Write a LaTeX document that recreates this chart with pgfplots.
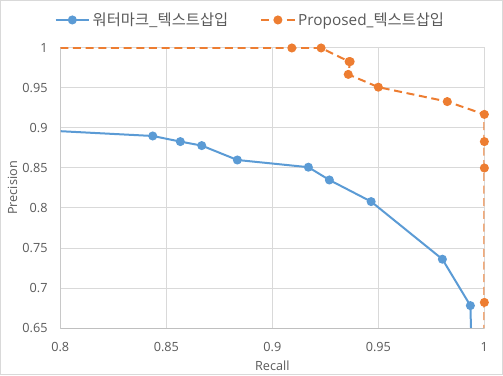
\documentclass[border=0pt]{standalone}
\usepackage{pgfplots}
\pgfplotsset{compat=1.18}
\usepackage{fontspec}
\setmainfont{Open Sans}
\newfontfamily\kr{Noto Sans CJK KR}
\definecolor{xlblue}{HTML}{5B9BD5}
\definecolor{xlorange}{HTML}{ED7D31}
\definecolor{xlgrid}{HTML}{D9D9D9}
\definecolor{xlaxis}{HTML}{BFBFBF}
\definecolor{xltext}{HTML}{595959}
\begin{document}
\begin{tikzpicture}
\begin{axis}[
  at={(0,0)}, anchor=south west,
  scale only axis,
  width=318pt, height=210pt,
  xmin=0.8, xmax=1, ymin=0.65, ymax=1,
  xtick={0.8,0.85,0.9,0.95,1},
  ytick={0.65,0.7,0.75,0.8,0.85,0.9,0.95,1},
  /pgf/number format/assume math mode=true,
  xticklabel style={font=\fontsize{9.5}{11}\selectfont, text=xltext, yshift=-7pt},
  yticklabel style={font=\fontsize{9.5}{11}\selectfont, text=xltext, xshift=-6pt},
  tick style={draw=none},
  grid=major,
  major grid style={draw=xlgrid, line width=0.75pt},
  axis line style={draw=xlgrid, line width=0.75pt},
  xlabel={Recall}, ylabel={Precision},
  label style={font=\fontsize{9.5}{11}\selectfont, text=xltext},
  xlabel style={yshift=0pt},
  ylabel style={yshift=-3pt},
  legend style={at={(0.449,1.10)}, anchor=center, draw=none, fill=none,
    legend columns=2, font=\fontsize{11.5}{14}\selectfont, text=xltext,
    /tikz/every even column/.append style={column sep=22pt}},
  legend cell align=left,
  legend image code/.code={
    \draw[mark repeat=2, mark phase=2, #1] plot coordinates {(0pt,0pt) (12.5pt,0pt) (25pt,0pt)};},
]
\addlegendimage{xlblue, line width=1.5pt, mark=*, mark size=2.6pt, mark options={solid, fill=xlblue, draw=xlblue}}
\addlegendentry{\kr 워터마크\_텍스트삽입}
\addlegendimage{xlorange, line width=1.5pt, dash pattern=on 6pt off 3.5pt, mark=*, mark size=2.6pt, mark options={solid, fill=xlorange, draw=xlorange}}
\addlegendentry{Proposed\_{\kr 텍스트삽입}}
\addplot[forget plot, xlblue, line width=1.5pt, mark=*, mark size=2.6pt, mark options={solid, fill=xlblue, draw=xlblue},
  mark indices={2,3,4,5,6,7,8,9,10}] coordinates {
  (0.8,0.896) (0.8436,0.890) (0.8566,0.883) (0.8667,0.878) (0.8835,0.860)
  (0.9170,0.851) (0.9269,0.835) (0.9466,0.808) (0.9802,0.736) (0.9934,0.678)
  (0.9937,0.65)};
\addplot[forget plot, xlorange, line width=1.5pt, dash pattern=on 6pt off 3.5pt, mark=*, mark size=2.6pt,
  mark options={solid, fill=xlorange, draw=xlorange},
  mark indices={2,3,4,5,6,7,8,9,10,11,12}] coordinates {
  (0.8,1) (0.9092,1) (0.923,1) (0.9362,0.983) (0.9367,0.983) (0.9358,0.967)
  (0.950,0.951) (0.9825,0.933) (1,0.917) (1,0.883) (1,0.850) (1,0.682) (1,0.65)};
\draw[xlaxis, line width=0.75pt] (rel axis cs:0,1) -- (rel axis cs:0,0) -- (rel axis cs:1,0);
\end{axis}
\draw[xlgrid, line width=0.75pt] (-44.85pt,-34.9pt) rectangle (331.6pt,245.6pt);
\end{tikzpicture}
\end{document}
